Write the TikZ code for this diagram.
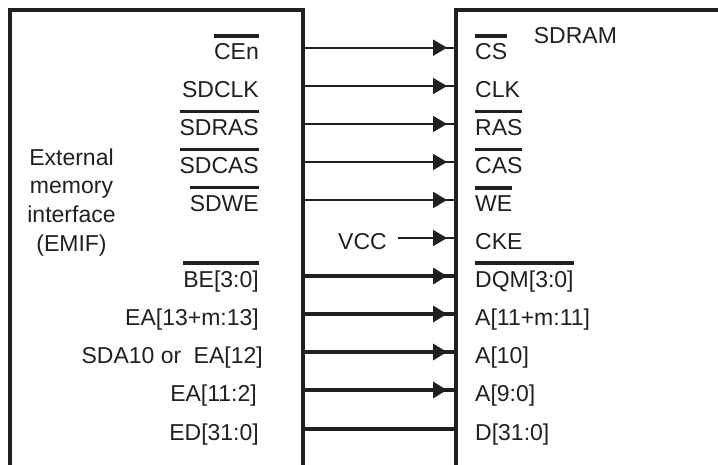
\documentclass[tikz,border=0pt]{standalone}
\usepackage{fontspec}
\setmainfont{Liberation Sans}
\usetikzlibrary{arrows.meta,decorations.markings}
\definecolor{ink}{HTML}{231F20}
\newcommand\ovl[1]{\vbox{\hrule height 3.5pt\kern 5.5pt\hbox{#1}}}
\tikzset{
  lbl/.style={inner sep=0pt,text=ink,font=\fontsize{23}{28}\selectfont},
  lleft/.style={lbl,anchor=base east},
  lright/.style={lbl,anchor=base west},
  boxline/.style={draw=ink,line width=3.5pt,line join=miter},
  thinsig/.style={draw=ink,line width=2pt},
  bussig/.style={draw=ink,line width=4.2pt},
  arr/.style={postaction={decorate},decoration={markings,
     mark=at position -9pt with {\arrow[ink]{Triangle[length=14pt,width=16pt]}}}}
}
\begin{document}
\begin{tikzpicture}[x=1pt,y=-1pt]
\useasboundingbox (0,0) rectangle (718,464);
\clip (0,0) rectangle (718,464);
% boxes
\draw[boxline] (10,480) -- (10,10) -- (303,10) -- (303,480);
\draw[boxline] (456,480) -- (456,10) -- (740,10);
% EMIF text
\node[lbl,anchor=base] (e1) at (71.5,165) {External};
\node[lbl,anchor=base] (e2) at (71.5,193.7) {memory};
\node[lbl,anchor=base] (e3) at (71.5,222.3) {interface};
\node[lbl,anchor=base] (e4) at (71.5,251) {(EMIF)};
\node[lright] (sdram) at (533.7,43.3) {SDRAM};
% left labels
\node[lleft] (ln1) at (259,59.3) {\ovl{CEn}};
\node[lleft] (ln2) at (259,97) {SDCLK};
\node[lleft] (ln3) at (259,135) {\ovl{SDRAS}};
\node[lleft] (ln4) at (259,173) {\ovl{SDCAS}};
\node[lleft] (ln5) at (259,211) {\ovl{SDWE}};
\node[lleft] (vcc) at (387,249) {VCC};
\node[lleft] (ln7) at (259,287) {\ovl{BE[3:0]}};
\node[lleft] (ln8) at (259,325) {EA[13+m:13]};
\node[lleft] (ln9) at (263,363) {SDA10 or\hspace{6pt} EA[12]};
\node[lleft] (ln10) at (257,401) {EA[11:2]};
\node[lleft] (ln11) at (259,440) {ED[31:0]};
% right labels
\node[lright] (rn1) at (475,59.3) {\ovl{CS}};
\node[lright] (rn2) at (475,97) {CLK};
\node[lright] (rn3) at (475,135) {\ovl{RAS}};
\node[lright] (rn4) at (475,173) {\ovl{CAS}};
\node[lright] (rn5) at (475,211) {\ovl{WE}};
\node[lright] (rn6) at (475,249) {CKE};
\node[lright] (rn7) at (475,287) {\ovl{DQM[3:0]}};
\node[lright] (rn8) at (475,325) {A[11+m:11]};
\node[lright] (rn9) at (475,363) {A[10]};
\node[lright] (rn10) at (475,401) {A[9:0]};
\node[lright] (rn11) at (475,440) {D[31:0]};
% connector end points on the box edges
\foreach \i/\y in {1/47.7,2/86,3/124,4/162,5/200,6/238,7/276,8/314,9/352,10/390,11/429}{
  \coordinate (L\i) at (303,\y);
  \coordinate (R\i) at (456,\y);
}
\coordinate (V) at (398,238);
% connectors
\foreach \i in {1,...,5}{\draw[thinsig,arr] (L\i) -- (R\i);}
\draw[thinsig,arr] (V) -- (R6);
\foreach \i in {7,...,10}{\draw[bussig,arr] (L\i) -- (R\i);}
\draw[bussig] (L11) -- (R11);
\end{tikzpicture}
\end{document}
